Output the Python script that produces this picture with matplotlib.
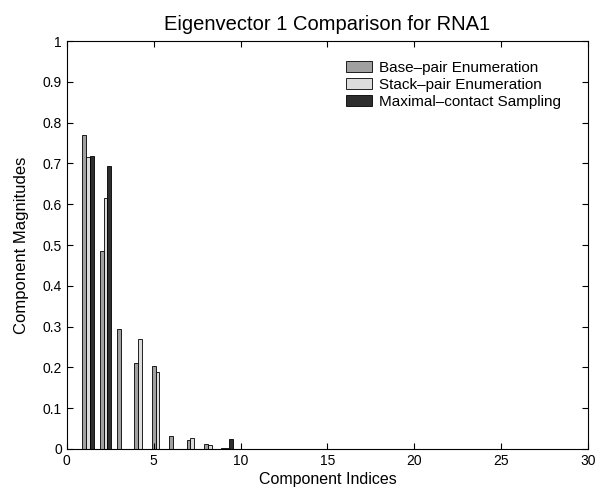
import numpy as np
import matplotlib
matplotlib.use("Agg")
import matplotlib.pyplot as plt

plt.rcParams['font.family'] = ['Liberation Sans', 'DejaVu Sans']

indices = np.arange(1, 31)
base_pair = [0.770, 0.485, 0.294, 0.210, 0.203, 0.033, 0.021, 0.011, 0.002, 0.001,
             0.001, 0.001, 0.001, 0.001, 0.001, 0.001, 0.001, 0.001, 0.001, 0.001,
             0.001, 0.001, 0.001, 0.001, 0.001, 0.001, 0.001, 0.001, 0.001, 0.0]
stack_pair = [0.715, 0.616, 0.0, 0.269, 0.189, 0.0, 0.026, 0.009, 0.002, 0.001,
              0.001, 0.001, 0.001, 0.001, 0.001, 0.001, 0.001, 0.001, 0.001, 0.001,
              0.001, 0.001, 0.001, 0.001, 0.001, 0.001, 0.001, 0.001, 0.001, 0.0]
max_contact = [0.719, 0.694, 0.0, 0.0, 0.0, 0.0, 0.0, 0.0, 0.025, 0.0,
               0.0, 0.0, 0.0, 0.0, 0.0, 0.0, 0.0, 0.0, 0.0, 0.0,
               0.0, 0.0, 0.0, 0.0, 0.0, 0.0, 0.0, 0.0, 0.0, 0.0]
series_names = ['Base\u2013pair Enumeration', 'Stack\u2013pair Enumeration',
                'Maximal\u2013contact Sampling']
xticks = [0, 5, 10, 15, 20, 25, 30]
yticks = [0, 0.1, 0.2, 0.3, 0.4, 0.5, 0.6, 0.7, 0.8, 0.9, 1]

fig = plt.figure(figsize=(5.97, 4.95), dpi=100)
ax = fig.add_axes([0.112, 0.093, 0.873, 0.824])

w = 0.22
colors = ['#a0a0a0', '#dcdcdc', '#2e2e2e']
for k, (vals, name, c) in enumerate(zip([base_pair, stack_pair, max_contact], series_names, colors)):
    ax.bar(indices + k * w, vals, width=w, color=c, edgecolor='black',
           linewidth=0.6, label=name)

ax.set_xlim(0, 30)
ax.set_ylim(0, 1)
ax.set_xticks(xticks)
ax.set_yticks(yticks)
ax.set_yticklabels([('%g' % v) for v in yticks])
ax.tick_params(direction='in', top=True, right=True, labelsize=10, length=4, width=0.8)
for s in ax.spines.values():
    s.set_linewidth(0.8)

ax.set_xlabel('Component Indices', fontsize=11.5, labelpad=3)
ax.set_ylabel('Component Magnitudes', fontsize=12, labelpad=10)
ax.set_title('Eigenvector 1 Comparison for RNA1', fontsize=14.5, pad=8)

ax.legend(loc='upper right', bbox_to_anchor=(0.975, 0.985), frameon=False, fontsize=11,
          handlelength=1.7, handleheight=0.7, handletextpad=0.5, labelspacing=0.2)

fig.savefig('out.png', dpi=100)
